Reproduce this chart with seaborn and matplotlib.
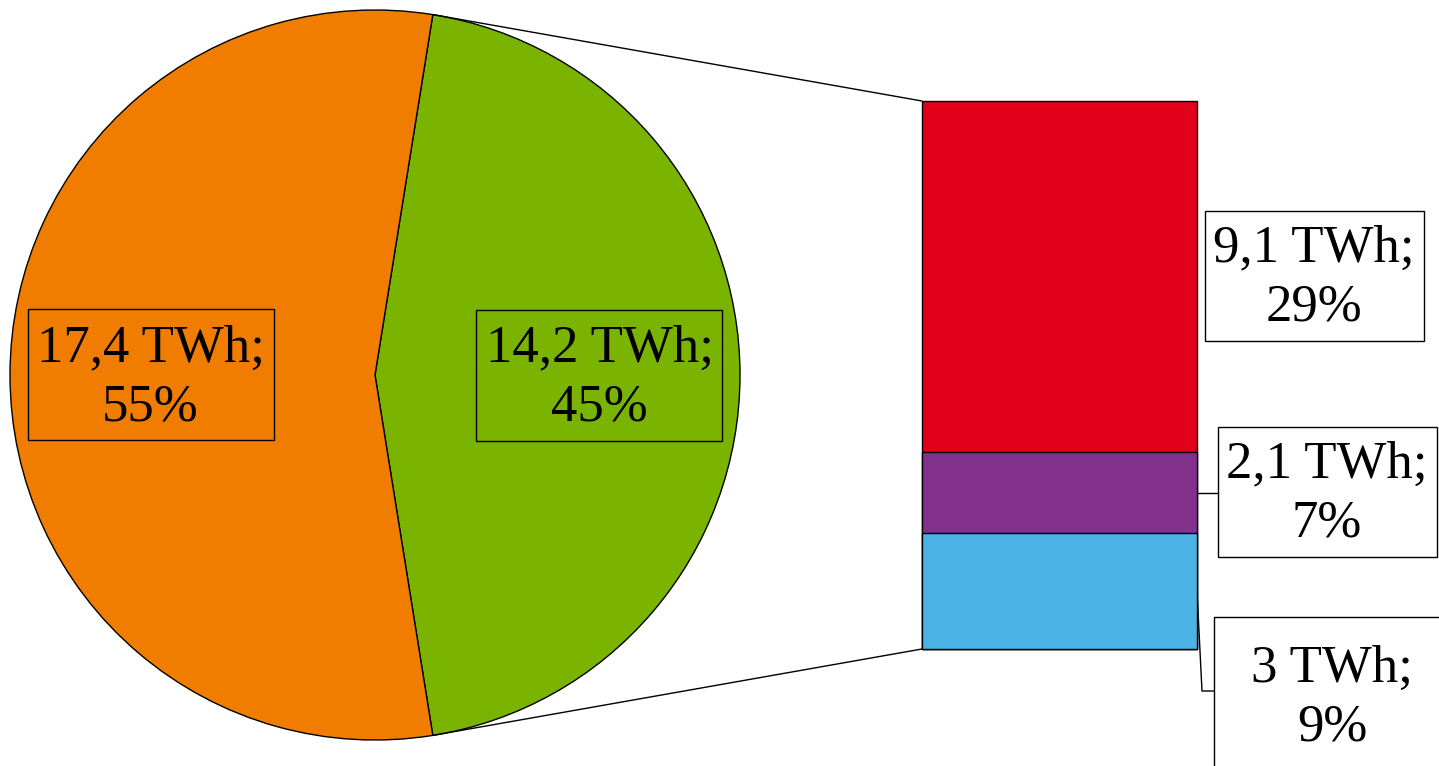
import matplotlib
matplotlib.use("Agg")
import matplotlib.pyplot as plt
from matplotlib.patches import ConnectionPatch, Rectangle
import numpy as np
import seaborn as sns

# данные (TWh)
pie_labels = ["Green", "Orange"]
pie_values = [14.2, 17.4]
pie_colors = ["#7AB400", "#F07D00"]

bar_labels = ["Blue", "Purple", "Red"]          # снизу вверх
bar_values = [3.0, 2.1, 9.1]
bar_colors = ["#4BB3E6", "#82318C", "#E2001A"]

total = sum(pie_values)


def fmt(v: float) -> str:
    return f"{v:g}".replace(".", ",")


def frame(ax, cx, cy, w, h, left=None, top=None):
    """Рамка вокруг подписи (в пикселях главной оси)."""
    x0 = cx - w / 2 if left is None else left
    y0 = cy - h / 2 if top is None else top
    ax.add_patch(Rectangle((x0, y0), w, h, fc="none", ec="black", lw=1,
                           clip_on=False, zorder=5))


sns.set_theme(style="white")
plt.rcParams["font.family"] = ["Liberation Serif", "DejaVu Serif"]
plt.rcParams["text.color"] = "black"

W, H = 1439, 766
fig = plt.figure(figsize=(W / 100, H / 100), dpi=100)
ax = fig.add_axes([0, 0, 1, 1])

half = pie_values[0] / total * 360 / 2
wedges, _, autotexts = ax.pie(
    pie_values,
    colors=pie_colors,
    startangle=-half,
    center=(375, 375),
    radius=365,
    autopct=lambda p: f"{fmt(round(p * total / 100, 1))} TWh;\n{p:.0f}%",
    pctdistance=0.615,
    wedgeprops=dict(edgecolor="black", linewidth=1),
    textprops=dict(fontsize=38, color="black", linespacing=1.28),
)
for t in autotexts:
    tx, ty = t.get_position()
    t.set_position((tx, ty + 3))
    frame(ax, tx, ty, 246, 131)

ax.set_xlim(0, W)
ax.set_ylim(H, 0)
ax.set_aspect("equal")
ax.axis("off")

# столбец с разбивкой
ax_bar = fig.add_axes([922 / W, (H - 649) / H, 275 / W, 548 / H])
tops = np.cumsum(bar_values)
for top, color in sorted(zip(tops, bar_colors), reverse=True):
    sns.barplot(
        x=[0], y=[top], color=color, width=1, saturation=1,
        edgecolor="black", linewidth=1, ax=ax_bar,
    )
for p in ax_bar.patches:
    p.set_clip_on(False)
ax_bar.set_xlim(-0.5, 0.5)
ax_bar.set_ylim(0, tops[-1])
ax_bar.axis("off")

# линии от круга к столбцу
cx, cy, r = 375, 375, 365
for ang, yb in [(wedges[0].theta1, 1), (wedges[0].theta2, 0)]:
    pt = (cx + r * np.cos(np.radians(ang)), cy + r * np.sin(np.radians(ang)))
    con = ConnectionPatch(
        xyA=pt, coordsA=ax.transData, xyB=(0, yb), coordsB=ax_bar.transAxes,
        color="black", lw=1,
    )
    fig.add_artist(con)

# подписи столбца: центр текста, рамка (left, top, w, h)
label_pos = [(1332, 698), (1327, 494), (1314, 278)]
label_box = [(1214, 617, 240, 170), (1218, 427, 219, 130),
             (1205, 211, 219, 130)]
mids = tops - np.array(bar_values) / 2
to_main = ax.transData.inverted()
for i, (v, m, pos, bx) in enumerate(zip(bar_values, mids, label_pos,
                                        label_box)):
    text = f"{fmt(v)} TWh;\n{v / total * 100:.0f}%"
    ax.text(pos[0], pos[1], text, ha="center", va="center", fontsize=38,
            linespacing=1.28, color="black")
    left, top, w, h = bx
    frame(ax, 0, 0, w, h, left=left, top=top)
    # выноски
    bx0, by0 = to_main.transform(ax_bar.transData.transform((0.5, m)))
    if i == 0:
        ax.plot([bx0, bx0 + 5, left], [by0, 691, 691], color="black",
                lw=1, clip_on=False)
    elif i == 1:
        ax.plot([bx0, left], [by0, by0], color="black", lw=1,
                clip_on=False)

fig.savefig("out.png", dpi=100)
